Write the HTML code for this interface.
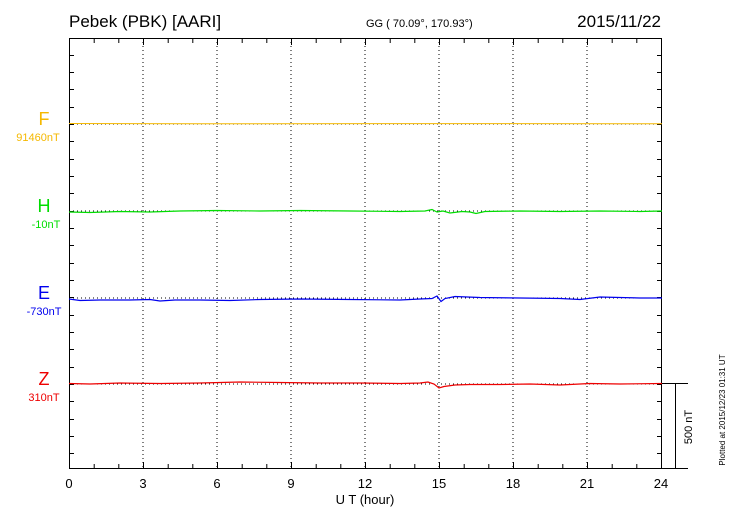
<!DOCTYPE html>
<html><head><meta charset="utf-8"><style>
body{margin:0;background:#fff}
svg{display:block;font-family:"Liberation Sans",sans-serif}
</style></head><body>
<svg width="730" height="520" xmlns="http://www.w3.org/2000/svg">
<rect width="730" height="520" fill="#fff"/>
<text x="69" y="27" font-size="17">Pebek (PBK)  [AARI]</text>
<text x="366" y="27" font-size="11">GG ( 70.09°, 170.93°)</text>
<text x="661" y="27" font-size="17" text-anchor="end">2015/11/22</text>
<g stroke="#000" stroke-width="1" stroke-dasharray="1,3">
<line x1="143" y1="38" x2="143" y2="469"/><line x1="217" y1="38" x2="217" y2="469"/>
<line x1="291" y1="38" x2="291" y2="469"/><line x1="365" y1="38" x2="365" y2="469"/>
<line x1="439" y1="38" x2="439" y2="469"/><line x1="513" y1="38" x2="513" y2="469"/>
<line x1="587" y1="38" x2="587" y2="469"/>
<line x1="69" y1="124" x2="662" y2="124"/><line x1="69" y1="211" x2="662" y2="211"/>
<line x1="69" y1="298" x2="662" y2="298"/><line x1="69" y1="384" x2="662" y2="384"/>
</g>
<g stroke="#000" stroke-width="1">
<path d="M94.2,39v4M118.8,39v4M143.5,39v6M168.2,39v4M192.8,39v4M217.5,39v6M242.2,39v4M266.8,39v4M291.5,39v6M316.2,39v4M340.8,39v4M365.5,39v6M390.2,39v4M414.8,39v4M439.5,39v6M464.2,39v4M488.8,39v4M513.5,39v6M538.2,39v4M562.8,39v4M587.5,39v6M612.2,39v4M636.8,39v4"/>
<path d="M94.2,468v-4M118.8,468v-4M143.5,468v-6M168.2,468v-4M192.8,468v-4M217.5,468v-6M242.2,468v-4M266.8,468v-4M291.5,468v-6M316.2,468v-4M340.8,468v-4M365.5,468v-6M390.2,468v-4M414.8,468v-4M439.5,468v-6M464.2,468v-4M488.8,468v-4M513.5,468v-6M538.2,468v-4M562.8,468v-4M587.5,468v-6M612.2,468v-4M636.8,468v-4"/>
<path d="M70,55.5h4M70,72.5h4M70,89.5h4M70,107.5h4M70,124.5h4M70,141.5h4M70,159.5h4M70,176.5h4M70,193.5h4M70,211.5h4M70,228.5h4M70,245.5h4M70,263.5h4M70,280.5h4M70,297.5h4M70,315.5h4M70,332.5h4M70,349.5h4M70,367.5h4M70,384.5h4M70,401.5h4M70,419.5h4M70,436.5h4M70,453.5h4"/>
<path d="M661,55.5h-4M661,72.5h-4M661,89.5h-4M661,107.5h-4M661,124.5h-4M661,141.5h-4M661,159.5h-4M661,176.5h-4M661,193.5h-4M661,211.5h-4M661,228.5h-4M661,245.5h-4M661,263.5h-4M661,280.5h-4M661,297.5h-4M661,315.5h-4M661,332.5h-4M661,349.5h-4M661,367.5h-4M661,384.5h-4M661,401.5h-4M661,419.5h-4M661,436.5h-4M661,453.5h-4"/>
</g>
<rect x="69.5" y="38.5" width="592" height="430" fill="none" stroke="#000"/>
<line x1="662" y1="468.5" x2="688" y2="468.5" stroke="#000"/>
<line x1="662" y1="383.5" x2="688" y2="383.5" stroke="#000"/>
<line x1="675.5" y1="384" x2="675.5" y2="469" stroke="#000"/>
<text transform="translate(692,427) rotate(-90)" font-size="11" text-anchor="middle">500 nT</text>
<text transform="translate(725,410) rotate(-90)" font-size="8" text-anchor="middle">Plotted at 2015/12/23 01:31  UT</text>
<polyline fill="none" stroke="#f5b800" stroke-width="1" points="69,123.5 200,123.8 400,123.6 662,123.7"/>
<polyline fill="none" stroke="#00dd00" stroke-width="1.2" points="69,212 90,212.5 120,211.5 150,212 180,211 217,210.5 260,211 300,210.5 350,211 400,211.5 425,211 432,209.5 437,212 443,211 450,213 462,211.5 470,212 476,213.5 485,211.5 520,211 560,211.5 600,211 640,211.5 662,211"/>
<polyline fill="none" stroke="#0000ee" stroke-width="1.2" points="69,299 80,300.5 100,300 130,300 150,299.5 160,301 175,300 200,300 230,300.5 260,299.5 300,299 350,299.5 400,300 420,299 432,298.5 437,296 441,301.5 445,298.5 455,296.5 480,297.5 520,298 560,298.5 580,299.5 600,297 620,297.5 640,298 662,298"/>
<polyline fill="none" stroke="#ee0000" stroke-width="1.2" points="69,383.5 90,384 120,383 160,383.5 200,383 240,382 280,382.5 320,383 360,383 400,383.5 420,383 428,382 434,384 439,388 444,386.5 455,385 470,384.5 500,384.5 530,384 560,385 590,383.5 620,384 662,383.5"/>
<text x="44" y="125" font-size="18" fill="#f5b800" text-anchor="middle">F</text>
<text x="38" y="141" font-size="11" fill="#f5b800" text-anchor="middle">91460nT</text>
<text x="44" y="212" font-size="18" fill="#00dd00" text-anchor="middle">H</text>
<text x="46" y="228" font-size="11" fill="#00dd00" text-anchor="middle">-10nT</text>
<text x="44" y="299" font-size="18" fill="#0000ee" text-anchor="middle">E</text>
<text x="44" y="315" font-size="11" fill="#0000ee" text-anchor="middle">-730nT</text>
<text x="44" y="385" font-size="18" fill="#ee0000" text-anchor="middle">Z</text>
<text x="44" y="401" font-size="11" fill="#ee0000" text-anchor="middle">310nT</text>
<g font-size="13" text-anchor="middle">
<text x="69" y="488">0</text><text x="143" y="488">3</text><text x="217" y="488">6</text>
<text x="291" y="488">9</text><text x="365" y="488">12</text><text x="439" y="488">15</text>
<text x="513" y="488">18</text><text x="587" y="488">21</text><text x="661" y="488">24</text>
<text x="365" y="504">U T (hour)</text>
</g>
</svg>
</body></html>
